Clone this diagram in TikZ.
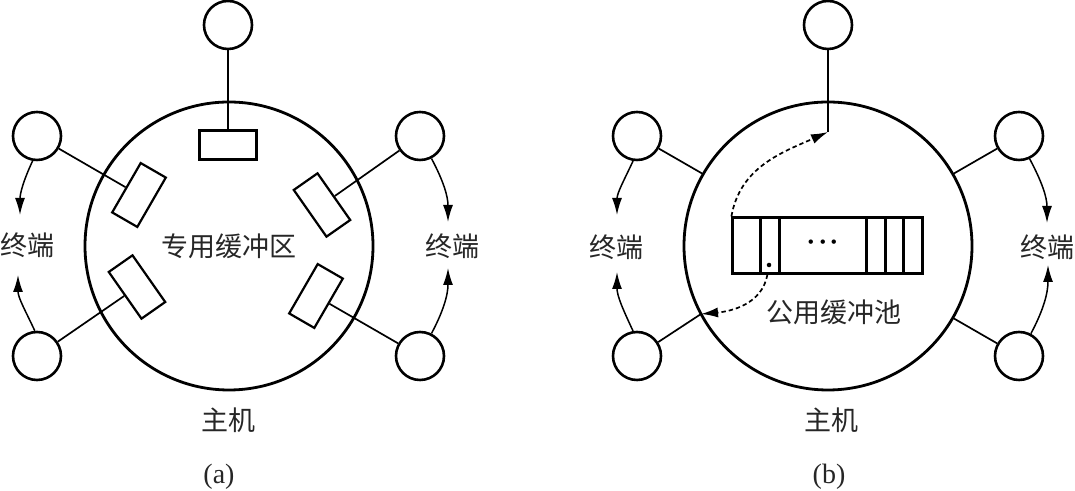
\documentclass[tikz,border=0pt]{standalone}
\usepackage{fontspec}
\setmainfont{Liberation Serif}
\newfontfamily\cjk{Noto Sans CJK SC}
\usetikzlibrary{arrows.meta}

\begin{document}
\begin{tikzpicture}[
    x=0.5pt, y=0.5pt,
    term/.style={circle, draw, line width=1.3pt, minimum size=24pt, inner sep=0pt},
    host/.style={circle, draw, line width=1.4pt, minimum size=144pt, inner sep=0pt},
    buf/.style={rectangle, draw, line width=1.1pt, minimum width=28.5pt, minimum height=14.5pt, inner sep=0pt},
    pool/.style={rectangle, draw, line width=1.1pt, minimum width=95pt, minimum height=28pt, inner sep=0pt},
    lbl/.style={font=\cjk\fontsize{13.5pt}{16pt}\selectfont, text=black!85, inner sep=0pt},
    subcap/.style={font=\fontsize{14pt}{16pt}\selectfont, text=black!85, inner sep=0pt},
    link/.style={line width=0.85pt},
    arr/.style={-{Latex[length=8.5pt,width=5pt]}, line width=0.75pt},
    darr/.style={-{Latex[length=8.5pt,width=5pt]}, line width=0.85pt, dash pattern=on 2.2pt off 1.5pt}
]
\useasboundingbox (0,0) rectangle (1075,491);

\node[host, lbl] (hosta) at (229,245) {专用缓冲区};
\node[term] (ta1) at (228,466) {};
\node[term] (ta2) at (37,355) {};
\node[term] (ta3) at (420,355) {};
\node[term] (ta4) at (37,135) {};
\node[term] (ta5) at (420,135) {};

\node[buf] (ba1) at (228,346) {};
\node[buf, rotate=60] (ba2) at (139,296) {};
\node[buf, rotate=-55] (ba3) at (322,286) {};
\node[buf, rotate=125] (ba4) at (137,204) {};
\node[buf, rotate=-120] (ba5) at (316,195) {};

\foreach \i in {1,...,5}
    \draw[link] (ta\i) -- (ba\i.north);

\node[lbl] (enda1) at (27,246) {终端};
\node[lbl] (enda2) at (452,245) {终端};
\node[lbl] (hostlbla) at (228,71) {主机};
\node[subcap] (capa) at (219,14) {(a)};

\coordinate (tipa1) at (20,276);
\coordinate (tipa2) at (448,269);
\coordinate (tipa3) at (18,216);
\coordinate (tipa4) at (448,223);

\draw[arr] (ta2.-100) to[out=-115,in=90] (tipa1);
\draw[arr] (ta4.95) to[out=115,in=-90] (tipa3);
\draw[arr] (ta3.-63) to[out=-62,in=90] (tipa2);
\draw[arr] (ta5.63) to[out=62,in=-90] (tipa4);

\node[host] (hostb) at (828,245) {};
\node[term] (tb1) at (828,466) {};
\node[term] (tb2) at (637,355) {};
\node[term] (tb3) at (1019,355) {};
\node[term] (tb4) at (637,135) {};
\node[term] (tb5) at (1019,135) {};

\node[pool] (pool) at (827.5,245.5) {};
\foreach \d in {14.5,24,67.5,77,86}
    \draw[line width=1.1pt] ([xshift=\d pt]pool.south west) -- ([xshift=\d pt]pool.north west);
\node[font=\fontsize{20pt}{22pt}\selectfont, inner sep=0pt] (dots) at (823,248) {${\cdot}{\cdot}{\cdot}$};
\node[circle, fill, inner sep=0.8pt] (mark) at (769,226) {};

\coordinate (cornr) at (828,359);
\coordinate (jn) at (701,177);
\coordinate (pa) at ([xshift=18pt]pool.south west);

\draw[link] (tb1) -- (cornr);
\draw[link] (tb2) -- (hostb);
\draw[link] (tb3) -- (hostb);
\draw[link] (tb4) -- (jn);
\draw[link] (tb5) -- (hostb);

\draw[darr] (pool.north west) to[out=80,in=204] (cornr);
\draw[darr] (pa) to[out=-100,in=5] (jn);

\node[lbl] (endb1) at (616,244) {终端};
\node[lbl] (endb2) at (1047,244) {终端};
\node[lbl] (poollbl) at (834,179) {公用缓冲池};
\node[lbl] (hostlblb) at (831,71) {主机};
\node[subcap] (capb) at (829,14) {(b)};

\coordinate (tipb1) at (617,276);
\coordinate (tipb2) at (1047,268);
\coordinate (tipb3) at (617,219);
\coordinate (tipb4) at (1048,226);

\draw[arr] (tb2.-99) to[out=-115,in=90] (tipb1);
\draw[arr] (tb4.99) to[out=115,in=-90] (tipb3);
\draw[arr] (tb3.-65) to[out=-62,in=90] (tipb2);
\draw[arr] (tb5.62) to[out=62,in=-90] (tipb4);

\end{tikzpicture}
\end{document}
